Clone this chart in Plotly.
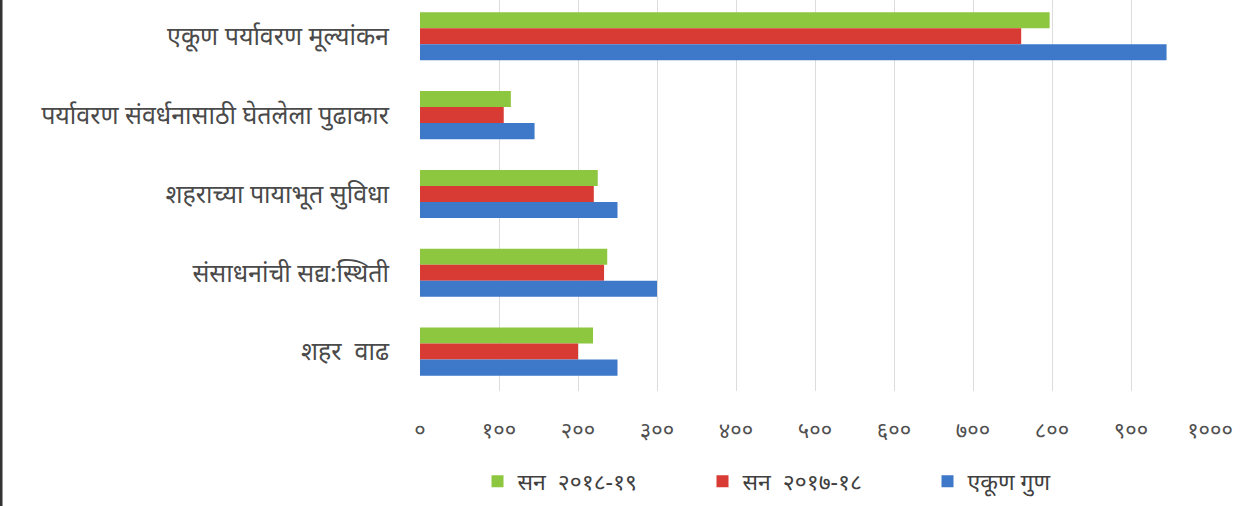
import plotly.graph_objects as go

# categories, top to bottom
categories = [
    "एकूण पर्यावरण मूल्यांकन",
    "पर्यावरण संवर्धनासाठी घेतलेला पुढाकार",
    "शहराच्या पायाभूत सुविधा",
    "संसाधनांची सद्य:स्थिती",
    "शहर  वाढ",
]

sale_2018_19 = [797, 115, 225, 237, 219]
sale_2017_18 = [761, 106, 220, 233, 200]
total_marks = [945, 145, 250, 300, 250]

tick_vals = [0, 100, 200, 300, 400, 500, 600, 700, 800, 900, 1000]
tick_text = ["०", "१००", "२००", "३००", "४००", "५००", "६००", "७००", "८००", "९००", "१०००"]

series = [
    ("सन  २०१८-१९", sale_2018_19, "#8dc63f"),
    ("सन  २०१७-१८", sale_2017_18, "#d83a34"),
    ("एकूण गुण", total_marks, "#3d78c9"),
]

fig = go.Figure()
for name, vals, color in series:
    fig.add_trace(go.Bar(
        y=categories,
        x=vals,
        name=name,
        orientation="h",
        marker=dict(color=color, line=dict(width=0)),
    ))

fig.update_layout(
    width=1257,
    height=506,
    barmode="group",
    bargap=0.39,
    bargroupgap=0,
    paper_bgcolor="white",
    plot_bgcolor="white",
    margin=dict(l=420, r=47, t=0, b=115),
    font=dict(family="Noto Sans, sans-serif", color="#404040"),
    legend=dict(
        orientation="h",
        x=0.5,
        xanchor="center",
        y=-0.231,
        yanchor="middle",
        font=dict(size=23, color="#404040"),
        entrywidth=180,
        itemwidth=30,
        traceorder="normal",
    ),
    showlegend=True,
)

fig.update_xaxes(
    range=[0, 1000],
    tickvals=tick_vals,
    ticktext=tick_text,
    showgrid=True,
    gridcolor="#dcdcdc",
    gridwidth=1,
    zeroline=False,
    showline=False,
    ticks="outside",
    ticklen=20,
    tickcolor="rgba(0,0,0,0)",
    tickfont=dict(size=22, color="#505050"),
)

fig.update_yaxes(
    range=[4.5, -0.46],
    showgrid=False,
    showline=False,
    ticks="outside",
    ticklen=25,
    tickcolor="rgba(0,0,0,0)",
    tickfont=dict(size=25, color="#4a4a4a"),
)

# dark edge on the left of the original picture
fig.add_shape(type="line", xref="paper", yref="paper",
              x0=-419 / 790, x1=-419 / 790, y0=-0.3, y1=1.01,
              line=dict(color="#333333", width=3))

# page has a default body margin; drop it so the figure sits at the top-left corner
fig.write_html("out.html", config={"displayModeBar": False},
               post_script="document.body.style.margin='0';")
